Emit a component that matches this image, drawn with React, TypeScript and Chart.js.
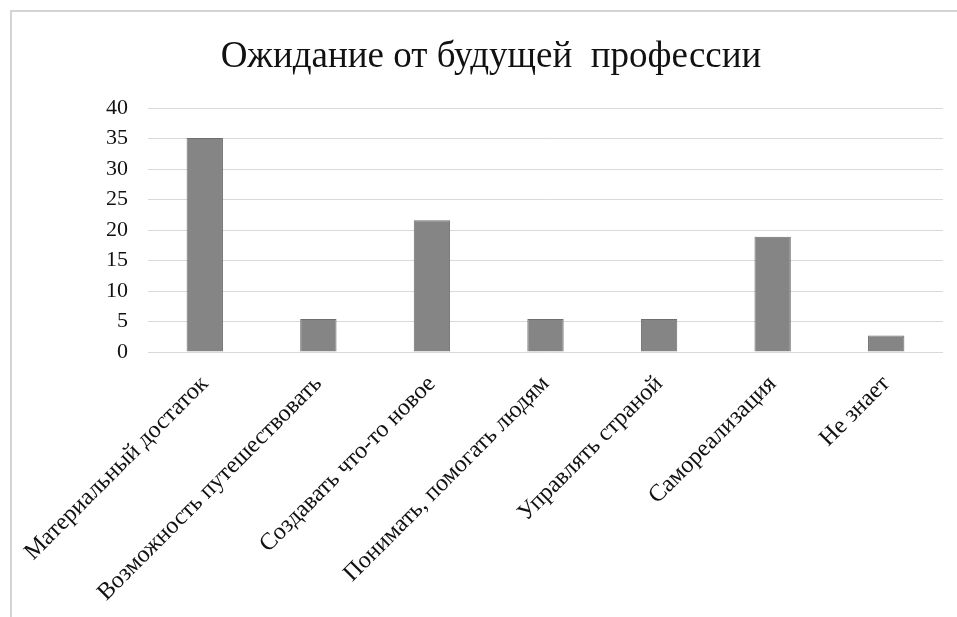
import React, { useEffect, useRef } from "react";
import { Chart, registerables } from "chart.js";

Chart.register(...registerables);

const title = "Ожидание от будущей  профессии";
const categories = [
  "Материальный достаток",
  "Возможность путешествовать",
  "Создавать что-то новое",
  "Понимать, помогать людям",
  "Управлять страной",
  "Самореализация",
  "Не знает",
];
const values = [35.1, 5.4, 21.6, 5.4, 5.4, 18.9, 2.7];
const yMin = 0;
const yMax = 40;
const yStep = 5;

const W = 957;
const H = 617;
const FONT = "'Liberation Serif', 'Times New Roman', serif";

// Light frame around the chart plus the centred heading
const framePlugin = {
  id: "frame",
  beforeDraw(chart: Chart) {
    const ctx = chart.ctx;
    ctx.save();
    ctx.fillStyle = "#ffffff";
    ctx.fillRect(0, 0, chart.width, chart.height);
    ctx.strokeStyle = "#d4d4d4";
    ctx.lineWidth = 2;
    ctx.strokeRect(11, 11, chart.width + 20, chart.height + 20);
    ctx.restore();
  },
  afterDraw(chart: Chart) {
    const ctx = chart.ctx;
    ctx.save();
    ctx.fillStyle = "#111111";
    ctx.font = `37px ${FONT}`;
    ctx.textAlign = "center";
    ctx.textBaseline = "alphabetic";
    ctx.fillText(title, 491, 67);
    ctx.restore();
  },
};

export default function App() {
  const ref = useRef<HTMLCanvasElement | null>(null);

  useEffect(() => {
    if (!ref.current) return;
    const chart = new Chart(ref.current, {
      type: "bar",
      data: {
        labels: categories,
        datasets: [
          {
            data: values,
            backgroundColor: "#858585",
            borderColor: "#6e6e6e",
            borderWidth: 1,
            categoryPercentage: 1,
            barPercentage: 0.32,
          },
        ],
      },
      options: {
        animation: false,
        responsive: false,
        devicePixelRatio: 1,
        layout: { padding: { top: 108, right: 14, left: 0, bottom: 0 } },
        plugins: {
          legend: { display: false },
          title: { display: false },
          tooltip: { enabled: false },
        },
        scales: {
          x: {
            grid: { display: false },
            border: { display: false },
            ticks: {
              color: "#111111",
              font: { family: FONT, size: 24 },
              minRotation: 45,
              maxRotation: 45,
              autoSkip: false,
              padding: 10,
            },
            afterFit(scale: any) {
              scale.height = H - 352;
            },
          },
          y: {
            min: yMin,
            max: yMax,
            grid: { color: "#d9d9d9", lineWidth: 1, drawTicks: false },
            border: { display: false },
            ticks: {
              stepSize: yStep,
              color: "#111111",
              font: { family: FONT, size: 22 },
              padding: 20,
            },
            afterFit(scale: any) {
              scale.width = 148;
            },
          },
        },
      },
      plugins: [framePlugin],
    });
    return () => chart.destroy();
  }, []);

  return (
    <div style={{ position: "fixed", left: 0, top: 0, width: W, height: H, background: "#fff" }}>
      <canvas ref={ref} width={W} height={H} style={{ width: W, height: H, display: "block" }} />
    </div>
  );
}
